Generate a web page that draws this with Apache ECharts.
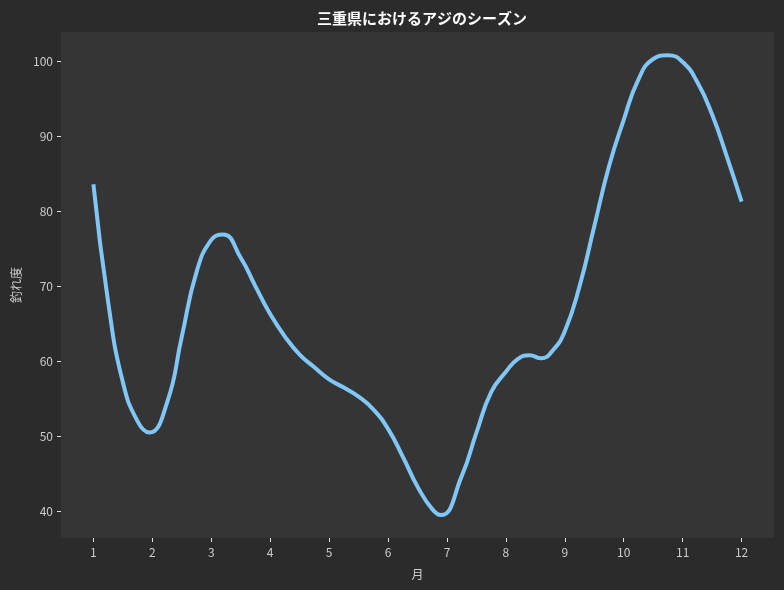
<!DOCTYPE html>
<html>
<head>
<meta charset="utf-8">
<script src="https://cdn.jsdelivr.net/npm/echarts@6/dist/echarts.min.js"></script>
<style>
  html, body { margin: 0; padding: 0; background: #2b2b2b; }
  #chart { width: 784px; height: 590px; }
</style>
</head>
<body>
<div id="chart"></div>
<script>
// 目盛り
const months = [1, 2, 3, 4, 5, 6, 7, 8, 9, 10, 11, 12];
const yTicks = [40, 50, 60, 70, 80, 90, 100];

// 図から読み取った曲線上の点（月, 釣れ度）
const samplePos = [
    1, 1.25, 1.5, 1.75, 1.95, 2.25, 2.5, 2.75, 3, 3.2, 3.5, 3.75,
    4, 4.25, 4.5, 4.75, 5, 5.25, 5.5, 5.75, 6, 6.25, 6.5, 6.75,
    6.9, 7.25, 7.5, 7.75, 8, 8.2, 8.4, 8.6, 8.8, 9, 9.25, 9.5, 9.75,
    10, 10.25, 10.5, 10.75, 11, 11.25, 11.5, 11.75, 12
];
const catchRate = [
    83.6, 67.9, 57.2, 52.0, 50.5, 54.5, 63.3, 71.9, 76.2, 76.9, 73.8, 70.0,
    66.3, 63.3, 60.9, 59.2, 57.6, 56.5, 55.3, 53.6, 51.0, 47.3, 43.3, 40.3,
    39.5, 44.7, 50.5, 55.9, 58.6, 60.3, 60.8, 60.4, 61.5, 64.0, 70.0, 78.0, 86.0,
    92.2, 97.6, 100.3, 100.8, 99.9, 97.2, 92.9, 87.3, 81.3
];

const font = "'Noto Sans CJK JP', sans-serif";
const chart = echarts.init(document.getElementById('chart'));

const option = {
    backgroundColor: '#2b2b2b',
    animation: false,
    title: {
        text: '三重県におけるアジのシーズン',
        left: 417, top: 6,
        textAlign: 'center',
        textStyle: { color: '#ffffff', fontSize: 15, fontWeight: 'bold', fontFamily: font }
    },
    grid: {
        left: 61, right: 10, top: 32, bottom: 52,
        show: true, backgroundColor: '#353535', borderWidth: 0
    },
    xAxis: {
        type: 'value',
        min: 0.45, max: 12.55,
        name: '月', nameLocation: 'middle', nameGap: 30,
        nameTextStyle: { color: '#cccccc', fontSize: 12, fontFamily: font },
        axisLine: { show: false },
        splitLine: { show: false },
        axisTick: { show: true, customValues: months, length: 4, lineStyle: { color: '#e0e0e0' } },
        axisLabel: { customValues: months, color: '#cccccc', fontSize: 12, fontFamily: font, margin: 8 }
    },
    yAxis: {
        type: 'value',
        min: 36.45, max: 103.9,
        name: '釣れ度', nameLocation: 'middle', nameGap: 36,
        nameTextStyle: { color: '#cccccc', fontSize: 12, fontFamily: font },
        axisLine: { show: false },
        splitLine: { show: false },
        axisTick: { show: true, customValues: yTicks, length: 4, lineStyle: { color: '#e0e0e0' } },
        axisLabel: { customValues: yTicks, color: '#cccccc', fontSize: 12, fontFamily: font, margin: 8 }
    },
    series: [{
        type: 'line',
        data: samplePos.map((m, i) => [m, catchRate[i]]),
        smooth: 0.5,
        showSymbol: false,
        lineStyle: { color: '#80c6f6', width: 4 }
    }]
};

chart.setOption(option);
</script>
</body>
</html>
